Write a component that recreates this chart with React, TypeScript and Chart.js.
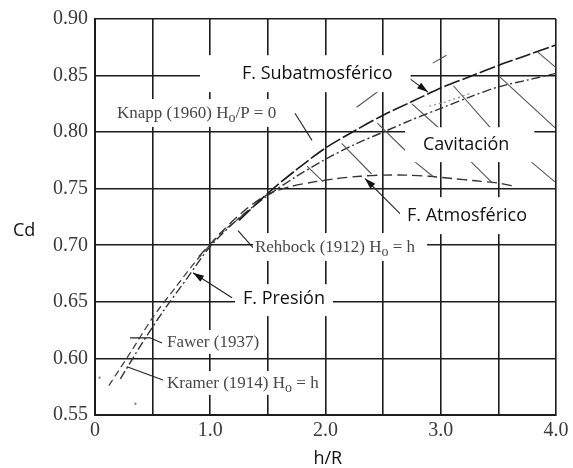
import React, { useEffect, useRef } from "react";
import { Chart, registerables } from "chart.js";

Chart.register(...registerables);

// ---- axes ----
const xGridValues = [0, 0.5, 1.0, 1.5, 2.0, 2.5, 3.0, 3.5, 4.0];
const xTickLabels = ["0", "", "1.0", "", "2.0", "", "3.0", "", "4.0"];
const yGridValues = [0.55, 0.6, 0.65, 0.7, 0.75, 0.8, 0.85, 0.9];
const yTickLabels = ["0.55", "0.60", "0.65", "0.70", "0.75", "0.80", "0.85", "0.90"];

// ---- curves (h/R, Cd) ----
// upper boundary (F. Subatmosférico / Knapp Ho/P = 0)
const upperHR = [1.25, 1.5, 1.75, 2.0, 2.25, 2.5, 2.75, 3.0, 3.25, 3.5, 3.75, 4.0];
const upperCd = [0.722, 0.746, 0.767, 0.786, 0.801, 0.815, 0.827, 0.839, 0.849, 0.859, 0.868, 0.877];

// dash-dot curve
const dashDotHR = [0.22, 0.4, 0.6, 0.8, 1.0, 1.25, 1.5, 1.75, 2.0, 2.25, 2.5, 2.75, 3.0, 3.25, 3.5, 3.75, 4.0];
const dashDotCd = [0.582, 0.612, 0.643, 0.671, 0.699, 0.724, 0.744, 0.761, 0.776, 0.789, 0.8, 0.811, 0.821, 0.831, 0.84, 0.846, 0.852];

// lower-left dashed curve (Fawer / Kramer)
const leftHR = [0.12, 0.3, 0.5, 0.7, 0.9, 1.1, 1.3];
const leftCd = [0.576, 0.604, 0.636, 0.663, 0.689, 0.711, 0.728];

// Rehbock (1912) dashed curve
const rehbockHR = [0.9, 1.1, 1.3, 1.5, 1.7, 1.9, 2.1, 2.3, 2.5, 2.7, 2.9, 3.1, 3.3, 3.5, 3.65];
const rehbockCd = [0.69, 0.712, 0.731, 0.745, 0.752, 0.756, 0.759, 0.761, 0.762, 0.762, 0.761, 0.759, 0.757, 0.755, 0.752];

// faint dotted piece
const dottedHR = [2.9, 3.05, 3.25];
const dottedCd = [0.823, 0.827, 0.834];

// faint extrapolated dashes
const extHR = [2.27, 2.47, 2.7, 2.93, 3.05];
const extCd = [0.822, 0.837, null, 0.861, 0.868];

// stray points
const strayHR = [0.04, 0.35];
const strayCd = [0.583, 0.56];

// ---- hatching (Cavitación zone) ----
const hatchHR0 = [1.84, 2.14, 2.45, 2.76, 2.75, 3.25, 3.11, 3.77, 3.51, 3.84];
const hatchCd0 = [0.77, 0.79, 0.808, 0.775, 0.825, 0.775, 0.841, 0.775, 0.849, 0.871];
const hatchHR1 = [1.98, 2.4, 2.69, 2.93, 2.99, 3.45, 3.43, 3.99, 3.99, 4.0];
const hatchCd1 = [0.756, 0.763, 0.784, 0.761, 0.803, 0.755, 0.804, 0.756, 0.804, 0.857];

// ---- leaders ----
const leaderHR = [[1.735, 1.883], [2.69, 2.889], [2.664, 2.343], [1.189, 0.85], [1.371, 1.241], [0.304, 0.477, 0.581], [0.278, 0.59]];
const leaderCd = [[0.8167, 0.7927], [0.8504, 0.8354], [0.7263, 0.759], [0.6536, 0.6757], [0.698, 0.713], [0.6182, 0.6182, 0.6137], [0.5927, 0.581]];
const leaderArrow = [false, true, true, true, false, false, false];

// ---- labels ----
const labelText = [
  "Knapp (1960) H_o/P = 0",
  "F. Subatmosférico",
  "Cavitación",
  "F. Atmosférico",
  "F. Presión",
  "Rehbock (1912) H_o = h",
  "Fawer (1937)",
  "Kramer (1914) H_o = h",
];
const labelHR = [0.191, 1.275, 2.846, 2.707, 1.284, 1.388, 0.625, 0.625];
const labelCd = [0.8125, 0.847, 0.7842, 0.7215, 0.6481, 0.6941, 0.6101, 0.5739];
const labelSerif = [true, false, false, false, false, true, true, true];
// box padding: left, right, top, bottom
const labelPad = [
  [6, 6, 5, 5],
  [42, 18, 9, 9],
  [18, 25, 8, 8],
  [7, 6, 9, 9],
  [8, 8, 5, 8],
  [2, 12, 5, 5],
  [3, 6, 3, 3],
  [4, 4, 3, 3],
];

const SERIF = "'Liberation Serif', 'DejaVu Serif', serif";
const SANS = "'Open Sans', 'Noto Sans', sans-serif";

const pts = (xs: number[], ys: (number | null)[]) => xs.map((x, i) => ({ x, y: ys[i] }));

const overlay = {
  id: "overlay",
  afterDatasetsDraw(chart: any) {
    const { ctx } = chart;
    const xs = chart.scales.x;
    const ys = chart.scales.y;
    const X = (v: number) => xs.getPixelForValue(v);
    const Y = (v: number) => ys.getPixelForValue(v);
    ctx.save();

    // hatching
    ctx.strokeStyle = "#555";
    ctx.lineWidth = 1.1;
    ctx.setLineDash([]);
    for (let i = 0; i < hatchHR0.length; i++) {
      ctx.beginPath();
      ctx.moveTo(X(hatchHR0[i]), Y(hatchCd0[i]));
      ctx.lineTo(X(hatchHR1[i]), Y(hatchCd1[i]));
      ctx.stroke();
    }

    // leaders
    ctx.strokeStyle = "#222";
    ctx.fillStyle = "#111";
    ctx.lineWidth = 1.1;
    for (let i = 0; i < leaderHR.length; i++) {
      const lx = leaderHR[i];
      const ly = leaderCd[i];
      ctx.beginPath();
      ctx.moveTo(X(lx[0]), Y(ly[0]));
      for (let k = 1; k < lx.length; k++) ctx.lineTo(X(lx[k]), Y(ly[k]));
      ctx.stroke();
      if (leaderArrow[i]) {
        const n = lx.length;
        const tx = X(lx[n - 1]);
        const ty = Y(ly[n - 1]);
        const fx = X(lx[n - 2]);
        const fy = Y(ly[n - 2]);
        const a = Math.atan2(ty - fy, tx - fx);
        const L = 11;
        const W = 3.5;
        ctx.beginPath();
        ctx.moveTo(tx, ty);
        ctx.lineTo(tx - L * Math.cos(a) + W * Math.sin(a), ty - L * Math.sin(a) - W * Math.cos(a));
        ctx.lineTo(tx - L * Math.cos(a) - W * Math.sin(a), ty - L * Math.sin(a) + W * Math.cos(a));
        ctx.closePath();
        ctx.fill();
      }
    }

    // labels
    ctx.textBaseline = "alphabetic";
    ctx.textAlign = "left";
    for (let i = 0; i < labelText.length; i++) {
      const serif = labelSerif[i];
      const size = serif ? 17 : 18;
      const fam = serif ? SERIF : SANS;
      const parts = labelText[i].split(/_(.)/);
      const widths: number[] = [];
      let total = 0;
      parts.forEach((p, k) => {
        ctx.font = `${k % 2 ? Math.round(size * 0.8) : size}px ${fam}`;
        const w = ctx.measureText(p).width;
        widths.push(w);
        total += w;
      });
      const x0 = X(labelHR[i]);
      const yb = Y(labelCd[i]);
      const pad = labelPad[i];
      ctx.fillStyle = "#ffffff";
      ctx.fillRect(x0 - pad[0], yb - size * 0.82 - pad[2], total + pad[0] + pad[1], size * 1.05 + pad[2] + pad[3]);
      ctx.fillStyle = serif ? "#474747" : "#111111";
      let cx = x0;
      parts.forEach((p, k) => {
        ctx.font = `${k % 2 ? Math.round(size * 0.8) : size}px ${fam}`;
        ctx.fillText(p, cx, k % 2 ? yb + 4 : yb);
        cx += widths[k];
      });
    }

    // axis titles
    ctx.fillStyle = "#111";
    ctx.font = `18px ${SANS}`;
    ctx.textAlign = "left";
    ctx.fillText("Cd", xs.left - 82, Y(0.7085));
    ctx.textAlign = "center";
    ctx.fillText("h/R", X(2.02), chart.height - 4);

    ctx.restore();
  },
};

export default function App() {
  const ref = useRef<HTMLCanvasElement | null>(null);

  useEffect(() => {
    if (!ref.current) return;
    const gridColor = "#1c1c1c";
    const chart = new Chart(ref.current, {
      type: "scatter",
      data: {
        datasets: [
          {
            data: pts(upperHR, upperCd),
            showLine: true,
            borderColor: "#1a1a1a",
            borderWidth: 1.6,
            borderDash: [16, 3],
            pointRadius: 0,
            tension: 0.3,
          },
          {
            data: pts(dashDotHR, dashDotCd),
            showLine: true,
            borderColor: "#333",
            borderWidth: 1.4,
            borderDash: [9, 3, 2, 3],
            pointRadius: 0,
            tension: 0.3,
          },
          {
            data: pts(leftHR, leftCd),
            showLine: true,
            borderColor: "#444",
            borderWidth: 1.3,
            borderDash: [7, 4],
            pointRadius: 0,
            tension: 0.3,
          },
          {
            data: pts(rehbockHR, rehbockCd),
            showLine: true,
            borderColor: "#333",
            borderWidth: 1.4,
            borderDash: [10, 5],
            pointRadius: 0,
            tension: 0.3,
          },
          {
            data: pts(dottedHR, dottedCd),
            showLine: true,
            borderColor: "#999",
            borderWidth: 1.4,
            borderDash: [2, 3],
            pointRadius: 0,
          },
          {
            data: pts(extHR, extCd),
            showLine: true,
            spanGaps: false,
            borderColor: "#555",
            borderWidth: 1.1,
            pointRadius: 0,
          },
          {
            data: pts(strayHR, strayCd),
            showLine: false,
            pointRadius: 1.2,
            pointBackgroundColor: "#888",
            pointBorderWidth: 0,
          },
        ],
      },
      options: {
        animation: false,
        responsive: false,
        devicePixelRatio: 1,
        layout: { padding: { left: 0, top: 19, right: 17, bottom: 0 } },
        plugins: { legend: { display: false }, tooltip: { enabled: false } },
        scales: {
          x: {
            type: "linear",
            min: 0,
            max: 4,
            afterBuildTicks: (a: any) => {
              a.ticks = xGridValues.map((v) => ({ value: v }));
            },
            afterFit: (s: any) => {
              s.height = 53;
            },
            ticks: {
              autoSkip: false,
              maxRotation: 0,
              padding: 4,
              color: "#3a3a3a",
              font: { family: SERIF, size: 20 },
              callback: (_v: any, i: number) => xTickLabels[i],
            },
            grid: { color: gridColor, lineWidth: 1.6, drawTicks: false },
            border: { color: gridColor, width: 2 },
          },
          y: {
            type: "linear",
            min: 0.55,
            max: 0.9,
            afterBuildTicks: (a: any) => {
              a.ticks = yGridValues.map((v) => ({ value: v }));
            },
            afterFit: (s: any) => {
              s.width = 95;
            },
            ticks: {
              autoSkip: false,
              padding: 7,
              color: "#3a3a3a",
              font: { family: SERIF, size: 20 },
              callback: (_v: any, i: number) => yTickLabels[i],
            },
            grid: { color: gridColor, lineWidth: 1.6, drawTicks: false },
            border: { color: gridColor, width: 2 },
          },
        },
      },
      plugins: [overlay],
    } as any);
    return () => chart.destroy();
  }, []);

  return (
    <div style={{ position: "absolute", left: 0, top: 0, width: 573, height: 468, background: "#fff" }}>
      <canvas ref={ref} width={573} height={468} />
    </div>
  );
}
